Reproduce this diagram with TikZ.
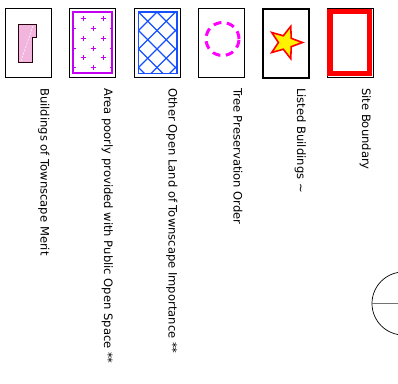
\documentclass[tikz,border=0pt]{standalone}
\usepackage{fontspec}
\setmainfont{DejaVu Sans}
\usetikzlibrary{shapes.geometric}
\definecolor{sitered}{rgb}{1,0,0}
\definecolor{pinkfill}{RGB}{242,182,222}
\definecolor{purp}{RGB}{196,0,240}
\definecolor{hatchblue}{RGB}{20,80,255}
\definecolor{tpomag}{RGB}{255,0,255}
\begin{document}
\begin{tikzpicture}[x=1pt,y=-1pt,
  legbox/.style={draw=black, line width=1pt, minimum width=46pt, minimum height=69pt, inner sep=0pt, anchor=north west},
  legtext/.style={rotate=-90, anchor=base west, font=\fontsize{11.55}{13}\selectfont, inner sep=0pt},
  plusmark/.style={draw=purp, line width=0.9pt},
]
\useasboundingbox (0,0) rectangle (398,383);

% legend boxes
\node[legbox] (b1) at (5,8) {};
\node[legbox] (b2) at (69,8) {};
\node[legbox] (b3) at (134,8) {};
\node[legbox] (b4) at (198,8) {};
\node[legbox, line width=1.5pt] (b5) at (262,8) {};
\node[legbox] (b6) at (327,8) {};

% box 1: building of townscape merit
\draw[fill=pinkfill, draw=black!80!purple, line width=0.8pt]
  (18,24) -- (36,24) -- (36,37) -- (32,37) -- (32,62) -- (18,62) -- cycle;
\draw[white, dashed, line width=0.5pt, dash pattern=on 2pt off 1.5pt] (33,26) -- (21,61);

% box 2: area poorly provided
\draw[purp, line width=1.6pt] (73,12) rectangle (112,73);
\foreach \px/\py in {83/18,103/18,93/28,83/38,103/38,93/48,83/57,103/57,93/67}{
  \draw[plusmark] (\px-2.5,\py) -- (\px+2.5,\py) (\px,\py-2.5) -- (\px,\py+2.5);
}
\foreach \py in {28,48,67}{
  \draw[plusmark] (73,\py) -- (75.5,\py) (109.5,\py) -- (112,\py);
}

% box 3: other open land
\begin{scope}
  \clip (138.5,12) rectangle (177,73.5);
  \foreach \k in {-4,...,8}{
    \draw[hatchblue, line width=1.1pt] (120,150.5+18.5*\k-120) -- (200,150.5+18.5*\k-200);
  }
  \foreach \k in {-4,...,6}{
    \draw[hatchblue, line width=1.1pt] (120,120-126.5+18.5*\k) -- (200,200-126.5+18.5*\k);
  }
\end{scope}
\draw[hatchblue, line width=1.6pt] (138.5,12) rectangle (177,73.5);

% box 4: tree preservation order
\node[circle, draw=tpomag, line width=3pt, dash pattern=on 8pt off 5.5pt, minimum size=33pt, inner sep=0pt] (tpo) at (222.5,39) {};

% box 5: listed building star
\node[star, star points=5, star point ratio=2.4, minimum size=34pt, inner sep=0pt,
      draw=sitered, fill=yellow, line width=1.6pt, rotate=-18] (lb) at (285.5,42.5) {};

% box 6: site boundary
\draw[sitered, line width=5.5pt] (330,11.5) rectangle (369.5,73.5);

% labels
\node[legtext] (t1) at (40.5,88) {Buildings of Townscape Merit};
\node[legtext] (t2) at (104,88) {Area poorly provided with Public Open Space **};
\node[legtext] (t3) at (168.5,88) {Other Open Land of Townscape Importance **};
\node[legtext] (t4) at (233.5,88) {Tree Preservation Order};
\node[legtext] (t5) at (297,88) {Listed Buildings \textasciitilde};
\node[legtext] (t6) at (362,88) {Site Boundary};

% north arrow fragment
\begin{scope}
  \clip (0,0) rectangle (398,383);
  \node[circle, draw=black, line width=0.7pt, minimum size=63pt, inner sep=0pt] (na) at (403.5,303.5) {};
  \draw[black!55, line width=1.2pt] (na.west) -- (398,303.5);
\end{scope}
\end{tikzpicture}
\end{document}
